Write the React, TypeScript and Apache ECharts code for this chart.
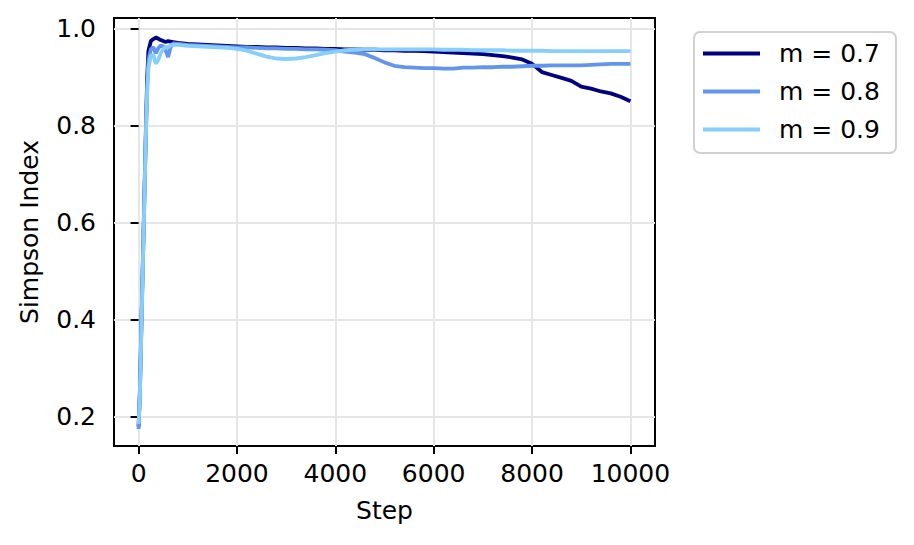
import React, { useEffect, useRef } from 'react';
import * as echarts from 'echarts';

const seriesNames = ['m = 0.7', 'm = 0.8', 'm = 0.9'];
const seriesColors = ['#000080', '#6495ED', '#87CEFA'];

const xTickValues = [0, 2000, 4000, 6000, 8000, 10000];
const yTickValues = [0.2, 0.4, 0.6, 0.8, 1.0];

const steps = [
  0, 25, 50, 75, 100, 125, 150, 175, 200, 250, 300, 350, 400, 450, 500, 550, 600, 650, 700, 800, 900, 1000,
  1200, 1400, 1600, 1800, 2000, 2200, 2400, 2600, 2800, 3000, 3200, 3400, 3600, 3800, 4000,
  4200, 4400, 4600, 4800, 5000, 5200, 5400, 5600, 5800, 6000, 6200, 6400, 6600, 6800, 7000,
  7200, 7400, 7600, 7800, 8000, 8200, 8400, 8600, 8800, 9000, 9200, 9400, 9600, 9800, 10000,
];

const m07 = [
  0.180, 0.250, 0.360, 0.470, 0.580, 0.690, 0.800, 0.900, 0.955, 0.975, 0.979, 0.982, 0.980, 0.977, 0.975, 0.973, 0.975, 0.974, 0.973, 0.971, 0.970, 0.969,
  0.968, 0.967, 0.966, 0.965, 0.964, 0.963, 0.963, 0.962, 0.962, 0.961, 0.961, 0.960, 0.960, 0.959, 0.959,
  0.958, 0.958, 0.957, 0.957, 0.956, 0.956, 0.955, 0.955, 0.954, 0.953, 0.952, 0.951, 0.950, 0.949, 0.948,
  0.946, 0.944, 0.941, 0.937, 0.928, 0.911, 0.905, 0.899, 0.893, 0.881, 0.877, 0.871, 0.867, 0.860, 0.851,
];

const m08 = [
  0.175, 0.240, 0.350, 0.460, 0.570, 0.680, 0.790, 0.880, 0.935, 0.958, 0.962, 0.950, 0.960, 0.966, 0.964, 0.956, 0.942, 0.962, 0.970, 0.969, 0.968, 0.967,
  0.966, 0.965, 0.964, 0.963, 0.962, 0.962, 0.961, 0.960, 0.960, 0.959, 0.959, 0.958, 0.958, 0.957, 0.956,
  0.953, 0.951, 0.948, 0.940, 0.931, 0.924, 0.921, 0.920, 0.919, 0.919, 0.918, 0.918, 0.920, 0.920, 0.921,
  0.921, 0.922, 0.922, 0.923, 0.924, 0.924, 0.925, 0.925, 0.925, 0.925, 0.926, 0.927, 0.928, 0.928, 0.928,
];

const m09 = [
  0.185, 0.240, 0.350, 0.460, 0.570, 0.680, 0.790, 0.870, 0.920, 0.945, 0.946, 0.928, 0.936, 0.950, 0.958, 0.963, 0.962, 0.966, 0.967, 0.967, 0.966, 0.965,
  0.964, 0.963, 0.962, 0.961, 0.959, 0.955, 0.949, 0.943, 0.939, 0.938, 0.939, 0.942, 0.946, 0.950, 0.953,
  0.956, 0.957, 0.958, 0.958, 0.958, 0.958, 0.958, 0.958, 0.958, 0.958, 0.957, 0.957, 0.957, 0.956, 0.956,
  0.956, 0.956, 0.955, 0.955, 0.955, 0.955, 0.954, 0.954, 0.954, 0.954, 0.954, 0.954, 0.954, 0.954, 0.954,
];

const seriesValues = [m07, m08, m09];

export default function App() {
  const ref = useRef<HTMLDivElement>(null);
  useEffect(() => {
    document.body.style.margin = '0';
    const chart = echarts.init(ref.current as HTMLDivElement, null, { renderer: 'svg' });
    const font = 'DejaVu Sans';
    const fs = 25;
    chart.setOption({
      animation: false,
      backgroundColor: '#ffffff',
      textStyle: { fontFamily: font },
      grid: {
        left: 114, right: 259, top: 18, bottom: 99,
        show: true, borderColor: '#000', borderWidth: 2, backgroundColor: 'transparent',
      },
      xAxis: {
        type: 'value', min: -500, max: 10500,
        name: 'Step', nameLocation: 'middle', nameGap: 52,
        nameTextStyle: { fontSize: fs, color: '#000', fontFamily: font },
        axisLine: { show: false },
        axisTick: { show: true, length: 8, lineStyle: { color: '#000', width: 2 }, customValues: xTickValues },
        axisLabel: {
          customValues: xTickValues, fontSize: fs, color: '#000', margin: 15, fontFamily: font,
          formatter: (v: number) => String(v),
        },
        splitLine: { show: true, lineStyle: { color: '#e6e6e6', width: 2 } },
      },
      yAxis: {
        type: 'value', min: 0.14, max: 1.0225,
        name: 'Simpson Index', nameLocation: 'middle', nameGap: 72,
        nameTextStyle: { fontSize: fs, color: '#000', fontFamily: font },
        axisLine: { show: false },
        axisTick: { show: true, length: 8, lineStyle: { color: '#000', width: 2 }, customValues: yTickValues },
        axisLabel: {
          customValues: yTickValues, fontSize: fs, color: '#000', margin: 18, fontFamily: font,
          formatter: (v: number) => v.toFixed(1),
        },
        splitLine: { show: true, lineStyle: { color: '#e6e6e6', width: 2 } },
      },
      legend: {
        orient: 'vertical', left: 694, top: 32,
        icon: 'rect', itemWidth: 57, itemHeight: 4, itemGap: 13,
        padding: [9, 16, 11, 9],
        borderColor: '#d0d0d0', borderWidth: 2, borderRadius: 6,
        textStyle: { fontSize: fs, color: '#000', fontFamily: font, padding: [0, 0, 0, 14], lineHeight: 25 },
        data: seriesNames,
      },
      series: seriesNames.map((name, k) => ({
        name,
        type: 'line',
        data: steps.map((s, i) => [s, seriesValues[k][i]]),
        showSymbol: false,
        symbol: 'none',
        color: seriesColors[k],
        lineStyle: { width: 3.8, color: seriesColors[k] },
        itemStyle: { color: seriesColors[k] },
      })),
    });
    return () => chart.dispose();
  }, []);
  return <div ref={ref} style={{ position: 'absolute', left: 0, top: 0, width: 914, height: 545 }} />;
}
